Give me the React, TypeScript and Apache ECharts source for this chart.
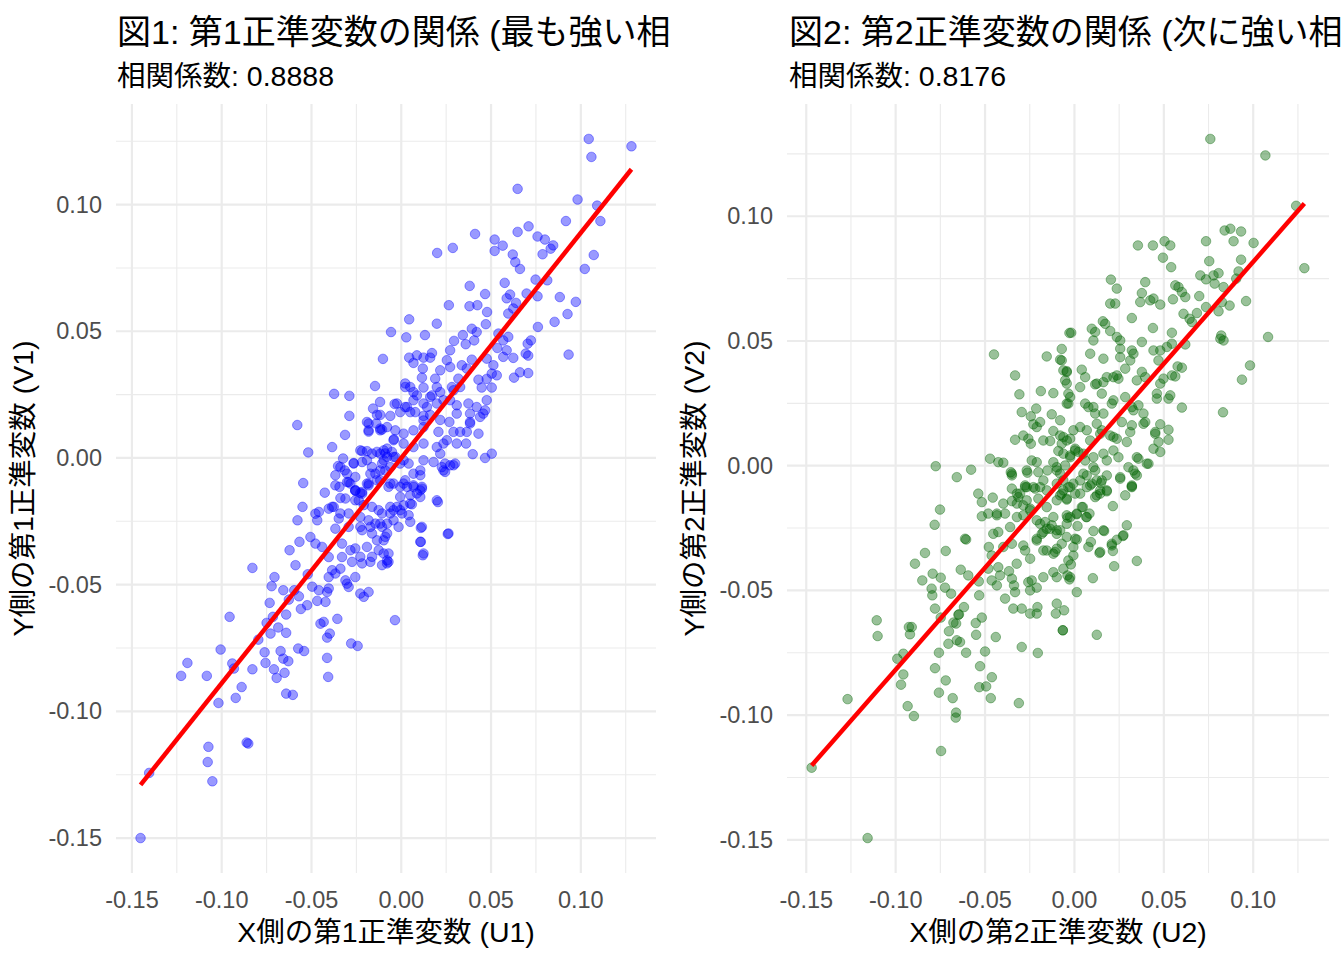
import React, { useEffect, useRef } from "react";
import * as echarts from "echarts";

const FONT = "'Liberation Sans', 'Noto Sans CJK JP', sans-serif";

const MAJOR_TICKS = [-0.15, -0.1, -0.05, 0, 0.05, 0.1];
const MINOR_TICKS = [-0.125, -0.075, -0.025, 0.025, 0.075, 0.125];

const titles = ["図1: 第1正準変数の関係 (最も強い相関)", "図2: 第2正準変数の関係 (次に強い相関)"];
const subtitles = ["相関係数: 0.8888", "相関係数: 0.8176"];
const xNames = ["X側の第1正準変数 (U1)", "X側の第2正準変数 (U2)"];
const yNames = ["Y側の第1正準変数 (V1)", "Y側の第2正準変数 (V2)"];
const correlations = [0.8888, 0.8176];
const intercepts = [0, 0];
const pointColors = ["rgba(0,0,255,0.5)", "rgba(0,100,0,0.5)"];

// Canonical variate pairs (U1, V1)
const canon1: [number, number][] = [
  [-0.0057,0.0497],[-0.0102,0.0391],[-0.0146,0.0284],[-0.0374,0.0253],[-0.0289,0.0245],[-0.0118,0.0221],[-0.0037,0.0213],[-0.0289,0.0166],[-0.0157,0.0195],[-0.0135,0.017],[-0.0117,0.017],[-0.0579,0.013],[-0.0182,0.0136],[-0.0139,0.0136],[-0.0182,0.0104],[-0.0107,0.0112],[-0.0313,0.0091],[-0.0041,0.0074],[-0.0385,0.0043],[-0.0518,0.0022],[-0.0218,0.0027],[-0.0191,0.0027],[-0.0135,0.0024],[-0.0089,0.0018],[-0.0052,0.0024],[-0.0324,-0.0002],[-0.0265,-0.002],[-0.0218,-0.0016],[-0.0352,-0.0032],[-0.0315,-0.0049],[-0.0367,-0.0068],[-0.0163,-0.0036],[-0.0107,-0.0022],[-0.0144,-0.0062],[-0.0089,-0.0049],[-0.0546,-0.0099],[-0.0256,-0.0075],[-0.0302,-0.0095],[-0.0182,-0.0101],[-0.0426,-0.0137],[-0.0344,-0.0114],[-0.0339,-0.0158],[-0.0256,-0.013],[-0.0228,-0.0138],
  [0.1044,0.1259],[0.1282,0.123],[0.1059,0.1188],[0.0648,0.1062],[0.0982,0.102],[0.1091,0.0996],[0.1109,0.0935],[0.0917,0.0935],[0.0411,0.0884],[0.0648,0.0892],[0.0709,0.0914],[0.052,0.0862],[0.0565,0.0838],[0.052,0.0817],[0.0759,0.0874],[0.08,0.0862],[0.0846,0.0839],[0.0832,0.0826],[0.0787,0.0804],[0.02,0.0809],[0.0287,0.0829],[0.0621,0.0803],[0.0635,0.0773],[0.0661,0.0746],[0.1072,0.0801],[0.1022,0.0746],[0.0748,0.0704],[0.0813,0.0701],[0.0381,0.0679],[0.0576,0.0691],[0.0467,0.0647],[0.0606,0.0645],[0.0587,0.063],[0.0639,0.0612],[0.0698,0.0649],[0.0759,0.0638],[0.0883,0.0635],[0.0972,0.0616],[0.0926,0.0568],[0.0854,0.0537],[0.0265,0.0603],[0.038,0.0599],[0.0424,0.0603],[0.0478,0.0576],[0.0044,0.0547],[0.0198,0.053],[0.0471,0.0528],[0.0596,0.057],[0.0624,0.059],[0.0761,0.0517],
  [0.0028,0.0476],[0.0132,0.0485],[0.0343,0.0485],[0.0393,0.051],[0.042,0.0497],[0.0406,0.0464],[0.0359,0.0449],[0.0294,0.0462],[0.0272,0.0425],[0.0541,0.0491],[0.0568,0.0464],[0.0535,0.0434],[0.0596,0.0478],[0.0587,0.0425],[0.0624,0.0395],[0.0568,0.0399],[0.0722,0.0464],[0.0704,0.0451],[0.0693,0.0412],[0.0707,0.0404],[0.0932,0.0408],
  [0.0044,0.0396],[0.0087,0.0405],[0.0124,0.0396],[0.0171,0.0414],[0.0161,0.0396],[0.0068,0.0375],[0.0272,0.0359],[0.0254,0.0386],[0.0337,0.0366],[0.0393,0.0388],[0.0476,0.0392],[0.0513,0.0366],[0.012,0.0353],[0.0115,0.0317],[0.0217,0.0346],[0.0189,0.0313],[0.0318,0.0313],[0.0365,0.0353],[0.043,0.0309],[0.0476,0.0312],[0.0504,0.0333],[0.0532,0.0326],[0.0628,0.0317],[0.0661,0.0338],[0.0707,0.0335],
  [0.0022,0.028],[0.0068,0.026],[0.0124,0.0278],[0.0171,0.0247],[0.0217,0.026],[0.0282,0.028],[0.0328,0.028],[0.0448,0.0278],[0.0504,0.0278],
  [-0.0024,0.0215],[0.0022,0.0201],[0.0068,0.0228],[0.0124,0.0215],[0.0161,0.0241],[0.0198,0.0215],[0.0272,0.0228],[0.0309,0.0208],[0.0374,0.0215],[0.042,0.0201],[0.0476,0.0228],[0.0467,0.0188],
  [-0.0061,0.0166],[-0.0006,0.0181],[0.005,0.0181],[0.0124,0.0166],[0.0161,0.017],[0.0217,0.015],[0.0268,0.0142],[0.0309,0.0175],[0.0383,0.0175],[0.0439,0.0162],[0.0383,0.0142],[0.0457,0.0175],
  [-0.0117,0.0109],[-0.0079,0.0122],[-0.0033,0.0109],[0.0013,0.0096],[0.0068,0.0109],[0.0124,0.0122],[0.0207,0.0103],[0.0254,0.007],[0.0291,0.0103],[0.0328,0.0103],[0.0365,0.0103],[0.0383,0.0136],[0.043,0.0096],
  [-0.0043,0.007],[0.0013,0.0057],[0.0068,0.0043],[0.0124,0.0057],[0.0198,0.0043],[0.0217,0.0017],[0.0235,0.0057],[0.0309,0.0057],[0.0361,0.0057],[0.0398,0.0015],[0.0467,0.0],[0.0504,0.0017],
  [-0.0117,0.0017],[-0.0079,0.0004],[-0.0006,-0.0022],[0.0041,-0.0022],[0.0106,-0.0049],[0.0068,-0.0062],[0.0124,-0.0009],[0.018,-0.0016],[0.0235,-0.0049],[0.0244,-0.0022],[0.03,-0.0022],[0.0244,-0.0055],[0.0291,-0.0029],
  [-0.0117,-0.0088],[-0.0061,-0.0101],[-0.0006,-0.0114],[0.0022,-0.0088],[0.0068,-0.0114],[0.0115,-0.0121],[0.0087,-0.014],[0.0198,-0.0167],[0.0226,-0.0036],[0.0272,-0.0029],
  [-0.1452,-0.15],[-0.1404,-0.1243],[-0.1074,-0.114],[-0.1078,-0.12],[-0.1052,-0.1276],[-0.0861,-0.1123],[-0.0852,-0.1127],[-0.1226,-0.086],[-0.1191,-0.0809],[-0.1083,-0.086],[-0.1018,-0.0967],[-0.1006,-0.0756],[-0.0956,-0.0627],[-0.0941,-0.0811],[-0.0932,-0.0831],[-0.0889,-0.0904],[-0.0922,-0.0947],[-0.0829,-0.0434],[-0.0829,-0.0834],[-0.0796,-0.0717],[-0.0761,-0.0767],[-0.0756,-0.0809],[-0.0706,-0.047],[-0.0722,-0.0506],[-0.0733,-0.0572],[-0.075,-0.0651],[-0.0715,-0.0627],[-0.0685,-0.0669],[-0.0728,-0.0693],[-0.0709,-0.0834],[-0.0694,-0.0868],[-0.065,-0.0848],[-0.0672,-0.0762],[-0.0657,-0.0792],[-0.0629,-0.0802],[-0.0641,-0.093],[-0.0604,-0.0935],[-0.0657,-0.0522],[-0.0626,-0.0559],[-0.0641,-0.0618],[-0.0641,-0.069],[-0.0596,-0.0522],[-0.057,-0.0546],[-0.0559,-0.0596],[-0.0574,-0.0752],[-0.0541,-0.0762],[-0.0622,-0.0364],[-0.0589,-0.0423],[-0.0578,-0.0246],[-0.0567,-0.0331],[-0.055,-0.0193],
  [-0.0521,-0.0459],[-0.0524,-0.0581],[-0.0496,-0.0508],[-0.0459,-0.0522],[-0.0468,-0.0564],[-0.0422,-0.0568],[-0.0413,-0.0529],[-0.0404,-0.0515],[-0.045,-0.0654],[-0.0432,-0.0647],[-0.0413,-0.0709],[-0.0398,-0.0693],[-0.0356,-0.0635],[-0.0413,-0.0789],[-0.0407,-0.0864],[-0.0279,-0.0732],[-0.0243,-0.0742],
  [-0.0506,-0.0312],[-0.0478,-0.0338],[-0.0441,-0.0351],[-0.0459,-0.0213],[-0.0468,-0.0246],[-0.0478,-0.022],[-0.0404,-0.02],[-0.0376,-0.0193],[-0.0367,-0.0279],[-0.0348,-0.0239],
  [-0.0404,-0.0391],[-0.0385,-0.0443],[-0.0367,-0.0456],[-0.0339,-0.0437],[-0.0404,-0.047],[-0.0311,-0.0483],[-0.0293,-0.0509],[-0.0256,-0.047],[-0.0302,-0.0496],[-0.0228,-0.0535],[-0.0209,-0.0548],[-0.0182,-0.0529],[-0.033,-0.0391],
  [-0.033,-0.0338],[-0.0283,-0.0364],[-0.0256,-0.0357],[-0.0274,-0.041],[-0.0218,-0.0416],[-0.0172,-0.041],[-0.0163,-0.039],[-0.0126,-0.0364],[-0.0107,-0.0423],[-0.0079,-0.0404],[-0.0071,-0.0377],
  [-0.0367,-0.0108],[-0.0293,-0.0095],[-0.0256,-0.0128],[-0.0218,-0.0141],[-0.0182,-0.0108],[-0.0311,-0.016],[-0.0256,-0.0167],[-0.0209,-0.0186],[-0.0163,-0.0193],[-0.0126,-0.0206],[-0.0385,-0.0193],[-0.0339,-0.0219],[-0.0293,-0.0219],[-0.0228,-0.0233],[-0.0182,-0.0246],[-0.0144,-0.0259],[-0.0107,-0.0272],[-0.0293,-0.0272],[-0.0218,-0.0285],[-0.0163,-0.0298],[-0.0089,-0.0311],
  [0.0204,-0.0174],[0.0259,-0.03],[0.0109,-0.0276],[0.0109,-0.0331],[0.012,-0.0384],[-0.0035,-0.064],[0.005,-0.0147],[0.0059,-0.0183],[0.005,-0.0252],[-0.0015,-0.0272],[-0.0079,-0.0416],[-0.0098,-0.0377],[-0.0098,-0.0325],[-0.0043,-0.0206],[0.0004,-0.0219],[0.0013,-0.0187],[0.0106,-0.0128],[0.0068,-0.0108],[0.0013,-0.0101],[-0.0071,-0.0114],[-0.0043,-0.0101],[-0.0079,-0.0259],[-0.0043,-0.0246],[-0.0061,-0.0193],[-0.0107,-0.0219],
  [-0.0339,-0.0036],[-0.0302,-0.0062],[-0.0265,-0.0022],[-0.0283,-0.0101],[-0.0256,-0.0127],[-0.0218,-0.0134],[-0.0237,-0.0167],[-0.0191,-0.0101],[-0.0172,-0.0062],[-0.0135,-0.0088],[-0.0117,-0.0049],[-0.0191,-0.0009],[-0.0228,0.003],[-0.0163,0.0017],[-0.0079,0.0037],[-0.0098,-0.0009],[-0.0061,-0.0036],[-0.0033,0.0004],
  [-0.0191,0.0142],[-0.0182,0.0109],[-0.0117,0.0116],[0.0032,0.0201],[0.005,0.028],[0.0022,0.0294],[0.0087,0.0247],[0.0078,0.0181],[0.0124,0.0148],[0.0143,0.0201],[0.0198,0.028],[0.0235,0.0228],[0.0291,0.0267],
  [-0.0098,0.003],[-0.0043,0.0004],[0.0013,-0.0009],[0.0032,-0.0114],[-0.0006,-0.0154],[0.005,-0.018],[0.0106,-0.0154],[0.0115,-0.0114],[0.0106,-0.0068],[-0.0024,-0.0193],[-0.0061,-0.0219],[-0.0117,-0.0259],[-0.0079,-0.0298],[-0.0135,-0.0325],[-0.0071,-0.041],[-0.0191,-0.0351],[-0.0228,-0.039],[-0.0172,-0.0272],[-0.0228,-0.0272],[-0.0006,-0.0206],[0.0041,-0.0226],[0.0115,-0.0272],[0.0106,-0.0331],[0.0124,-0.0377],[0.0263,-0.0298],
];

// Canonical variate pairs (U2, V2)
const canon2: [number, number][] = [
  [-0.045,0.0446],[-0.0155,0.0438],[-0.008,0.0425],[-0.0071,0.0468],[-0.0028,0.0532],[-0.0332,0.0362],[-0.0308,0.0286],[-0.0188,0.0299],[-0.0118,0.0291],[-0.0062,0.0382],[-0.0043,0.0329],[-0.0034,0.0289],[-0.0295,0.0215],[-0.0244,0.0198],[-0.0214,0.0229],[-0.0127,0.0206],[-0.023,0.0166],[-0.0192,0.0175],[-0.0211,0.0155],[-0.0118,0.0139],[-0.008,0.0121],[-0.0043,0.0101],[-0.0071,0.0088],[-0.0332,0.0104],[-0.0286,0.0121],[-0.0258,0.0108],[-0.0244,0.0088],[-0.0174,0.0101],[-0.0136,0.0099],[-0.009,0.0059],[-0.0776,-0.0002],[-0.0658,-0.0046],[-0.0578,-0.0016],[-0.0472,0.0028],[-0.0426,0.0014],[-0.0398,0.0012],[-0.0538,-0.0112],[-0.0457,-0.0128],[-0.0356,-0.0026],[-0.035,-0.0032],[-0.0263,-0.0028],[-0.0211,0.0014],[-0.0202,-0.0026],[-0.0151,-0.0019],[-0.0118,0.0014],[-0.0099,-0.0006],[-0.0052,0.0001],[-0.035,-0.0092],[-0.0322,-0.0112],[-0.0276,-0.0079],[-0.022,-0.0092],[-0.0174,-0.0059],[-0.0155,-0.0099],[-0.0099,-0.0072],[-0.0062,-0.0099],
  [0.076,0.131],[0.1068,0.1244],[0.124,0.1042],[0.1286,0.0792],[0.1083,0.0516],[0.0982,0.0402],[0.0937,0.0345],[0.0831,0.0214],[0.0821,0.0522],[0.0834,0.0502],[0.0816,0.0509],[0.096,0.066],[0.084,0.0943],[0.0872,0.095],[0.0932,0.0939],[0.089,0.09],[0.1002,0.0893],[0.0736,0.09],[0.0754,0.082],[0.0704,0.0763],[0.0736,0.0747],[0.0778,0.0763],[0.0806,0.0772],[0.0784,0.073],[0.0932,0.0826],[0.0918,0.0779],[0.0905,0.075],[0.0834,0.0716],[0.0868,0.0642],[0.0806,0.0619],[0.0825,0.0656],[0.0355,0.0883],[0.0439,0.0883],[0.0504,0.09],[0.0536,0.0883],[0.0495,0.0834],[0.0541,0.0796],
  [0.0204,0.0746],[0.0237,0.071],[0.0396,0.0736],[0.0377,0.0692],[0.0368,0.0656],[0.02,0.065],[0.0228,0.065],[0.0424,0.0663],[0.0442,0.067],[0.048,0.0646],[0.0551,0.0667],
  [0.0564,0.0723],[0.0582,0.0716],[0.0601,0.0696],[0.062,0.0676],[0.0698,0.068],[0.0736,0.0636],
  [0.061,0.0609],[0.0644,0.0589],[0.0685,0.0612],[0.0657,0.0576],
  [0.0159,0.0579],[0.0172,0.0569],[0.0097,0.0549],[0.0116,0.0536],[0.02,0.054],[0.0237,0.0516],[0.0256,0.0502],[0.0321,0.0592],
  [0.0439,0.0552],[0.0545,0.0533],[0.0377,0.0496],[0.0321,0.0462],[0.0256,0.0469],[0.0256,0.0435],[0.0162,0.0429],[0.0088,0.0449],
  [-0.0018,0.0533],[-0.0071,0.0422],[0.0106,0.0502],
  [0.0442,0.0462],[0.048,0.0462],[0.0517,0.0476],[0.0545,0.0489],[0.062,0.0486],[0.047,0.0422],[0.0312,0.0422],[0.033,0.0449],
  [0.0577,0.0398],[0.0601,0.0393],[0.0564,0.0358],[0.0545,0.0362],[0.0498,0.0349],[0.048,0.0329],[0.0461,0.0289],[0.0461,0.0269],[0.0526,0.0269],[0.0536,0.0282],[0.0601,0.0233],
  [0.0041,0.0385],[0.006,0.0355],[-0.0043,0.0379],[-0.0052,0.0342],[0.0032,0.0315],[0.0116,0.0326],[0.0162,0.0335],[0.0218,0.0355],[0.0246,0.0349],[0.0284,0.0389],[0.0349,0.0342],[0.0377,0.0376],[0.0396,0.0355],
  [-0.0034,0.0249],[0.006,0.0249],[0.0106,0.0235],[0.0116,0.0209],[0.0153,0.0289],[0.0218,0.0262],[0.0284,0.0275],[0.0321,0.0235],[0.0358,0.0242],[0.0386,0.0209],[0.0396,0.0175],[0.0321,0.0162],[0.0312,0.0135],[0.0265,0.0175],
  [0.048,0.0166],[0.0526,0.0144],[0.0452,0.0128],[0.0526,0.0104],[0.047,0.0095],[0.0442,0.0068],[0.048,0.0055],[0.0414,0.0008],[0.0358,0.0028],
  [-0.008,0.0182],[-0.0062,0.0115],[-0.0006,0.0142],[0.0004,0.0061],[-0.0024,0.0034],[0.005,0.0048],[0.0088,0.0101],[0.0125,0.0168],[0.0153,0.0142],[0.02,0.0121],[0.0237,0.0108],[0.0218,0.0061],[0.0293,0.0095],[0.0302,-0.0006],[0.034,-0.0032],[0.0246,0.0034],[0.0162,0.0048],[0.0106,-0.0006],[0.005,-0.0032],[0.0032,-0.0059],[0.0097,-0.0072],[0.0153,-0.0059],[0.0256,-0.0052],[0.0321,-0.0086],[0.0181,-0.0099],[0.0125,-0.0119],[0.0284,-0.0119],[-0.0034,-0.0086],[-0.0071,-0.0112],
  [-0.147,-0.1211],[-0.1157,-0.1493],[-0.1269,-0.0936],[-0.1106,-0.062],[-0.1101,-0.0683],[-0.0933,-0.0964],[-0.0898,-0.1004],[-0.0746,-0.1144],[-0.0662,-0.099],[-0.0664,-0.101],[-0.0681,-0.0932],[-0.0758,-0.091],[-0.097,-0.0878],[-0.0957,-0.0837],[-0.0991,-0.0774],[-0.0957,-0.0754],[-0.0926,-0.0647],[-0.092,-0.0676],[-0.091,-0.0647],[-0.078,-0.0812],[-0.072,-0.0861],
  [-0.0758,-0.075],[-0.0702,-0.0664],[-0.0677,-0.0629],[-0.0662,-0.0633],[-0.0705,-0.0714],[-0.0658,-0.07],[-0.064,-0.0707],[-0.0606,-0.075],[-0.0646,-0.0596],[-0.0618,-0.0567],
  [-0.0528,-0.0804],[-0.0532,-0.0888],[-0.0494,-0.0885],[-0.0462,-0.0848],[-0.0468,-0.0932],[-0.05,-0.0745],[-0.0311,-0.0952],[-0.0295,-0.0727],[-0.0205,-0.0751],[-0.044,-0.0687],[-0.0065,-0.066],[-0.0065,-0.066],[-0.0552,-0.0631],[-0.0518,-0.0609],[-0.055,-0.0678],
  [-0.078,-0.0573],[-0.0748,-0.0609],[-0.0795,-0.052],[-0.0799,-0.0493],[-0.0724,-0.0489],[-0.069,-0.0513],[-0.0748,-0.0449],[-0.0793,-0.0433],[-0.0851,-0.046],[-0.0892,-0.0393],[-0.0836,-0.035],[-0.072,-0.0342],[-0.0782,-0.0237],[-0.0752,-0.0176],[-0.0606,-0.0296],[-0.0636,-0.0417],[-0.0594,-0.044],[-0.0535,-0.0464],[-0.0533,-0.052],[-0.0649,-0.0598],
  [-0.0479,-0.0326],[-0.0463,-0.036],[-0.0482,-0.0413],[-0.0463,-0.046],[-0.0434,-0.048],[-0.0426,-0.0407],[-0.0416,-0.044],[-0.0366,-0.0423],[-0.035,-0.0453],[-0.0338,-0.048],[-0.0332,-0.0507],[-0.0388,-0.0533],[-0.0342,-0.0573],[-0.0295,-0.0573],[-0.0248,-0.0593],[-0.0211,-0.0593],[-0.0207,-0.0567],[-0.0248,-0.05],[-0.0211,-0.0489],[-0.0239,-0.046],[-0.0258,-0.0467],[-0.0323,-0.0393],[-0.035,-0.0313],[-0.0286,-0.032],[-0.0276,-0.034],[-0.0248,-0.0373],[-0.0174,-0.0447],[-0.0118,-0.0427],[-0.0099,-0.0447],[-0.0099,-0.0553],[-0.0104,-0.0593],[-0.0058,-0.058],[-0.0024,-0.0447],[-0.0062,-0.0413],[-0.0099,-0.0333],[-0.0108,-0.0346],[-0.0174,-0.034],[-0.0211,-0.0293],[-0.0426,-0.0266],[-0.036,-0.0246],[-0.0286,-0.0199],[-0.0211,-0.0219],[-0.0164,-0.0226],[-0.0174,-0.0266],[-0.0136,-0.0253],[-0.0099,-0.0259],[-0.0398,-0.0152],[-0.0434,-0.0199],[-0.0482,-0.0192],[-0.0518,-0.0203],[-0.0518,-0.0146],[-0.035,-0.0142],[-0.0322,-0.0152],[-0.0304,-0.0112],[-0.0286,-0.0159],[-0.0248,-0.0172],[-0.023,-0.0086],[-0.0276,-0.0086],[-0.0202,-0.0132],[-0.0155,-0.0166],[-0.0118,-0.0206],[-0.0099,-0.0139],[-0.0043,-0.0199],[-0.0043,-0.0233],[-0.0034,-0.038],
  [0.0321,-0.0083],[0.0215,-0.0162],[0.0293,-0.0239],[0.0271,-0.0282],[0.0237,-0.0297],[0.0209,-0.032],[0.0215,-0.0342],[0.014,-0.035],[0.0349,-0.0382],[0.0222,-0.0403],[0.0103,-0.0451],[0.0013,-0.0507],[0.0125,-0.0678],[0.0166,-0.0262],[0.0106,-0.0262],[0.0092,-0.0306],[0.0017,-0.0242],[0.0013,-0.0296],[-0.0006,-0.0326],[-0.0006,-0.036],[-0.002,-0.0396],[-0.0039,-0.044],[-0.0028,-0.0456],[-0.0071,-0.0313],[-0.0039,-0.0209],[0.0013,-0.0195],[0.0047,-0.0166],[0.0084,-0.0192],[0.0066,-0.0206],[-0.0043,-0.0136],[0.0032,-0.0112],[0.0069,-0.0086],[0.0088,-0.0079],[0.0116,-0.0126],[0.0144,-0.0112],[0.0181,-0.0103],[0.0148,-0.007],[-0.0024,-0.0086],
  [-0.0239,0.0021],[-0.0267,-0.0019],[-0.035,-0.0039],[-0.0267,-0.0086],[-0.0192,-0.0086],[-0.0099,-0.0019],[-0.008,-0.0032],[-0.0062,-0.0059],[-0.008,-0.0119],[-0.0043,-0.0132],[0.0004,-0.0112],[-0.0006,-0.0072],[0.0069,-0.0039],[0.0116,-0.0019],[0.0125,-0.0059],[0.0144,-0.0099],[0.0181,-0.0039],[0.0256,-0.0046],[0.033,-0.0019],[0.0349,-0.0039],[0.0321,-0.0079],[0.0181,0.0021],[0.0106,0.0034],[0.006,0.0021],[0.0022,0.0055],[-0.0024,0.0041],[-0.0062,0.0048],
  [-0.0314,-0.0126],[-0.0322,-0.0206],[-0.0267,-0.0139],[-0.0248,-0.0179],[-0.0192,-0.0233],[-0.0183,-0.0273],[-0.0155,-0.0253],[-0.0127,-0.0239],[-0.0099,-0.0273],[-0.008,-0.0259],[-0.0211,-0.03],[-0.0155,-0.034],[-0.0118,-0.0353],[-0.0024,-0.0206],[0.0013,-0.0192],[0.0041,-0.0166],[-0.0043,-0.0286],[0.0004,-0.0293],[0.0069,-0.0206],[0.0078,-0.0326],[0.0144,-0.0346],[0.0209,-0.0313],[0.0274,-0.0279],[0.0162,-0.0259],[-0.0434,-0.0192],[-0.0388,-0.0192],[-0.0454,-0.0273],[-0.0398,-0.0326],[-0.0612,-0.0293],
  [-0.0043,0.0375],[-0.0024,0.0275],[-0.0043,0.0249],[0.0125,0.0329],[0.0181,0.0355],[0.0237,0.0362],[0.033,0.0222],[0.0386,0.0168],[0.0209,0.0249],[0.0162,0.0209],[0.0144,0.0128],[0.0218,0.0115],[0.0349,0.0034],[0.0405,0.0008],[0.0452,0.0135],[0.0078,0.0235],[0.0032,0.0155],[0.0069,0.0142],[-0.0024,0.0108],[0.0004,0.0068],
];

const datasets = [canon1, canon2];

interface PanelProps { index: number; }

function Panel({ index }: PanelProps) {
  const ref = useRef<HTMLDivElement>(null);
  useEffect(() => {
    if (!ref.current) return;
    const chart = echarts.init(ref.current, undefined, { renderer: "svg" });
    const pts = datasets[index];
    const xs = pts.map((p) => p[0]);
    const ys = pts.map((p) => p[1]);
    const xMin = Math.min(...xs), xMax = Math.max(...xs);
    const yMin = Math.min(...ys), yMax = Math.max(...ys);
    const xPad = (xMax - xMin) * 0.05;
    const yPad = (yMax - yMin) * 0.05;
    const xLo = xMin - xPad, xHi = xMax + xPad;
    const yLo = yMin - yPad, yHi = yMax + yPad;
    const slope = correlations[index];
    const icpt = intercepts[index];
    const fitLine = [
      [xMin, icpt + slope * xMin],
      [xMax, icpt + slope * xMax],
    ];
    const inX = (v: number) => v >= xLo && v <= xHi;
    const inY = (v: number) => v >= yLo && v <= yHi;
    const gridItems: number[][] = [
      ...MINOR_TICKS.filter(inX).map((v) => [v, 0, 0, 0]),
      ...MINOR_TICKS.filter(inY).map((v) => [0, v, 1, 0]),
      ...MAJOR_TICKS.filter(inX).map((v) => [v, 0, 0, 1]),
      ...MAJOR_TICKS.filter(inY).map((v) => [0, v, 1, 1]),
    ];
    const labelStyle = {
      color: "#4D4D4D",
      fontSize: 23.5,
      fontFamily: FONT,
      formatter: (v: number) => v.toFixed(2),
      customValues: MAJOR_TICKS,
    };
    const nameStyle = { fontSize: 28.5, color: "#000000", fontFamily: FONT, verticalAlign: "middle", lineHeight: 30 };
    const option: any = {
      animation: false,
      textStyle: { fontFamily: FONT },
      grid: {
        left: index === 0 ? 116 : 115,
        right: index === 0 ? 16 : 15,
        top: 104,
        bottom: 87,
        containLabel: false,
        outerBoundsMode: "none",
      },
      graphic: [
        {
          type: "text",
          x: 117,
          y: 32,
          style: { text: titles[index], fontSize: 34, fontFamily: FONT, fill: "#000000", align: "left", verticalAlign: "middle" },
        },
        {
          type: "text",
          x: 117,
          y: 76,
          style: { text: subtitles[index], fontSize: 28.5, fontFamily: FONT, fill: "#000000", align: "left", verticalAlign: "middle" },
        },
      ],
      xAxis: {
        type: "value",
        min: xLo,
        max: xHi,
        axisLine: { show: false },
        axisTick: { show: false, customValues: MAJOR_TICKS },
        splitLine: { show: false },
        axisLabel: { ...labelStyle, margin: 15, lineHeight: 24 },
        name: xNames[index],
        nameLocation: "middle",
        nameGap: 57,
        nameTextStyle: nameStyle,
      },
      yAxis: {
        type: "value",
        min: yLo,
        max: yHi,
        axisLine: { show: false },
        axisTick: { show: false, customValues: MAJOR_TICKS },
        splitLine: { show: false },
        axisLabel: { ...labelStyle, margin: 14 },
        name: yNames[index],
        nameLocation: "middle",
        nameGap: 83,
        nameTextStyle: nameStyle,
      },
      series: [
        {
          type: "custom",
          silent: true,
          z: 0,
          clip: false,
          encode: { x: 0, y: 1 },
          data: gridItems,
          renderItem: (params: any, api: any) => {
            const cs = params.coordSys;
            const orient = api.value(2);
            const major = api.value(3);
            const style = { stroke: "#EBEBEB", lineWidth: major ? 2.2 : 1.1 };
            if (orient === 0) {
              const px = api.coord([api.value(0), 0])[0];
              return { type: "line", shape: { x1: px, y1: cs.y, x2: px, y2: cs.y + cs.height }, style };
            }
            const py = api.coord([0, api.value(1)])[1];
            return { type: "line", shape: { x1: cs.x, y1: py, x2: cs.x + cs.width, y2: py }, style };
          },
        },
        {
          type: "scatter",
          z: 2,
          symbolSize: 9.5,
          data: pts,
          itemStyle: { color: pointColors[index], borderColor: pointColors[index], borderWidth: 1 },
          silent: true,
        },
        {
          type: "line",
          z: 3,
          data: fitLine,
          symbol: "none",
          silent: true,
          lineStyle: { color: "#FF0000", width: 4.5 },
        },
      ],
    };
    chart.setOption(option);
    return () => chart.dispose();
  }, [index]);
  return <div ref={ref} style={{ width: 672, height: 960, overflow: "hidden" }} />;
}

export default function App() {
  return (
    <div style={{ position: "fixed", left: 0, top: 0, width: 1344, height: 960, display: "flex", background: "#ffffff" }}>
      <Panel index={0} />
      <Panel index={1} />
    </div>
  );
}
